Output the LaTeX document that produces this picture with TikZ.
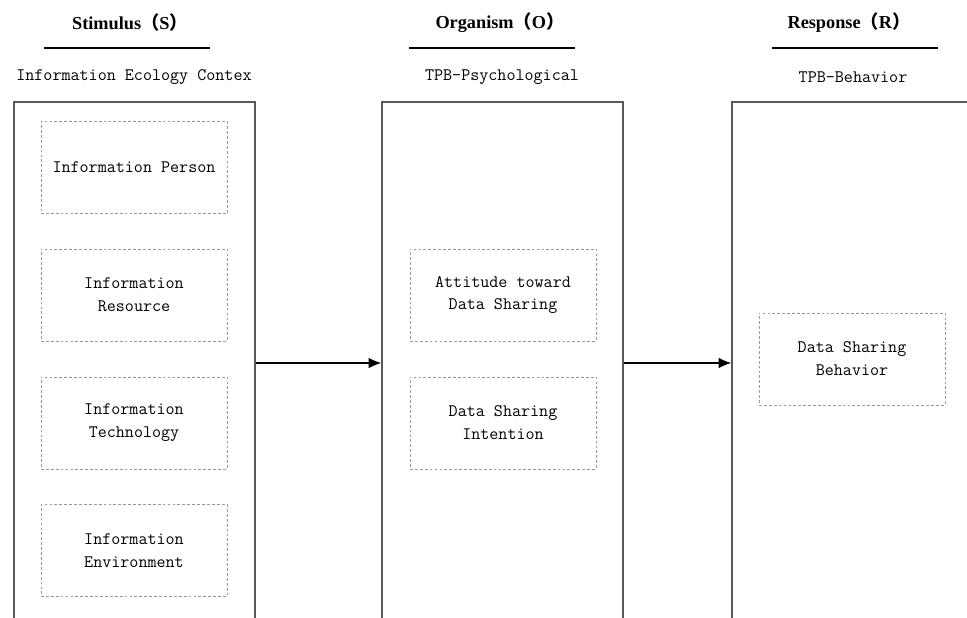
\documentclass[tikz,border=0pt]{standalone}
\usepackage{fontspec}
\setmainfont{Liberation Serif}
\newfontfamily\cjk{Noto Sans CJK SC}
\usetikzlibrary{arrows.meta}
\newcommand{\fwl}{{\cjk （}}
\newcommand{\fwr}{{\cjk ）}}

\begin{document}
\begin{tikzpicture}[
    title/.style={font=\fontsize{13}{15}\selectfont\bfseries, inner sep=0pt},
    subtitle/.style={font=\ttfamily\fontsize{12.5}{14}\selectfont, inner sep=0pt},
    stage/.style={draw=black!65, line width=0.9pt, minimum width=6.025cm, minimum height=13.05cm},
    factor/.style={draw=black!40, line width=0.6pt, dash pattern=on 2pt off 1.5pt,
      minimum width=4.65cm, minimum height=2.3cm, align=center,
      font=\ttfamily\fontsize{12.5}{16.3}\selectfont},
    flow/.style={-{Latex[length=9pt,width=7.5pt]}, line width=1pt}
  ]
    \clip (0,0) rectangle (24.175,-15.45);
    \useasboundingbox (0,0) rectangle (24.175,-15.45);
    % headings
    \node[title] (tS) at (3.25,-0.575) {Stimulus\fwl S\fwr};
    \node[title] (tO) at (12.5,-0.575) {Organism\fwl O\fwr};
    \node[title] (tR) at (21.225,-0.575) {Response\fwl R\fwr};
    \draw[line width=1.4pt] (1.1,-1.2) -- (5.25,-1.2);
    \draw[line width=1.4pt] (10.225,-1.2) -- (14.375,-1.2);
    \draw[line width=1.4pt] (19.3,-1.2) -- (23.45,-1.2);
    \node[subtitle] (sS) at (3.35,-1.925) {Information Ecology Contex};
    \node[subtitle] (sO) at (12.55,-1.925) {TPB-Psychological};
    \node[subtitle] (sR) at (21.325,-1.925) {TPB-Behavior};
    % stages
    \node[stage] (S) at (3.3625,-9.075) {};
    \node[stage] (O) at (12.5625,-9.075) {};
    \node[stage] (R) at (21.3125,-9.075) {};
    % factors
    \node[factor] (person) at (3.35,-4.19) {Information Person};
    \node[factor] (resource) at (3.35,-7.375) {Information\\Resource};
    \node[factor] (technology) at (3.35,-10.575) {Information\\Technology};
    \node[factor] (environment) at (3.35,-13.76) {Information\\Environment};
    \node[factor] (attitude) at (12.575,-7.375) {Attitude toward\\Data Sharing};
    \node[factor] (intention) at (12.575,-10.575) {Data Sharing\\Intention};
    \node[factor] (behavior) at (21.3,-8.975) {Data Sharing\\Behavior};
    % arrows
    \draw[flow] (S.east) -- (O.west);
    \draw[flow] (O.east) -- (R.west);
  \end{tikzpicture}
\end{document}
